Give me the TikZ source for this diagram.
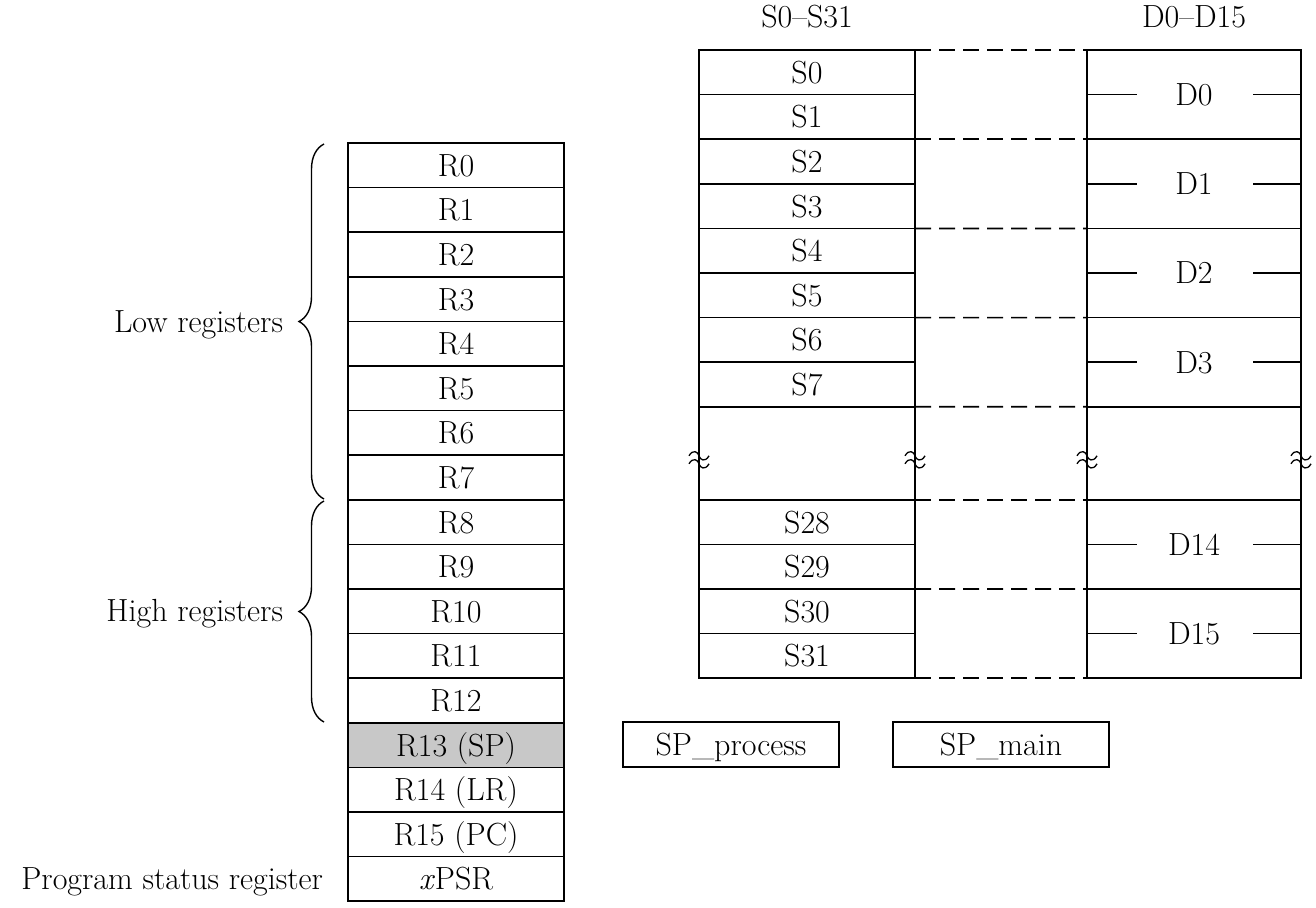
\documentclass[tikz,border=0pt]{standalone}
\usepackage{fontspec}
\usetikzlibrary{decorations.pathreplacing,calc}
\definecolor{spgray}{RGB}{200,200,200}
\begin{document}
\begin{tikzpicture}[x=1pt,y=-1pt,
  txt/.style={font=\fontsize{32}{38}\selectfont, inner sep=0pt, outer sep=0pt, text height=21.8pt, text depth=0pt},
  reg/.style={txt, draw, line width=1.7pt, minimum width=216pt, minimum height=44.6pt},
  dreg/.style={reg, minimum width=214pt, minimum height=89.2pt},
  spreg/.style={reg, fill=spgray},
  conn/.style={line width=1.7pt, dash pattern=on 16pt off 8pt},
  frame/.style={line width=1.7pt},
  brk/.style={line width=1.3pt},
  brc/.style={decorate, decoration={brace, amplitude=25pt}, line width=1.4pt},
  brkmark/.pic={
    \draw[brk] (-10,-4) .. controls (-6,-11) and (-1,-8) .. (0,-4) .. controls (1,0) and (6,3) .. (10,-4);
    \draw[brk] (-10,4) .. controls (-6,-3) and (-1,0) .. (0,4) .. controls (1,8) and (6,11) .. (10,4);
  }
]
\useasboundingbox (0,0) rectangle (1316,907);

% core registers
\node[reg] (r0)  at (456,165.3) {R0};
\node[reg] (r1)  at (456,209.9) {R1};
\node[reg] (r2)  at (456,254.5) {R2};
\node[reg] (r3)  at (456,299.1) {R3};
\node[reg] (r4)  at (456,343.7) {R4};
\node[reg] (r5)  at (456,388.3) {R5};
\node[reg] (r6)  at (456,432.9) {R6};
\node[reg] (r7)  at (456,477.5) {R7};
\node[reg] (r8)  at (456,522.1) {R8};
\node[reg] (r9)  at (456,566.7) {R9};
\node[reg] (r10) at (456,611.3) {R10};
\node[reg] (r11) at (456,655.9) {R11};
\node[reg] (r12) at (456,700.5) {R12};
\node[spreg] (r13) at (456,745.1) {R13 (SP)};
\node[reg] (r14) at (456,789.7) {R14 (LR)};
\node[reg] (r15) at (456,834.3) {R15 (PC)};
\node[reg] (psr) at (456,878.9) {\textit{x}PSR};

% braces and labels
\coordinate (lowtop) at (324,144);
\coordinate (lowbot) at (324,499);
\coordinate (hightop) at (324,501);
\coordinate (highbot) at (324,722);
\draw[brc] (lowbot) -- (lowtop);
\draw[brc] (highbot) -- (hightop);
\node[txt, anchor=east] (lowlbl) at (283,322) {Low registers};
\node[txt, anchor=east] (highlbl) at (283,611) {High registers};
\node[txt, anchor=east] (psrlbl) at (323,879) {Program status register};

% SP banked
\node[reg] (spp) at (731,744.5) {SP\_process};
\node[reg] (spm) at (1001,744.5) {SP\_main};

% S registers
\node[txt] (shead) at (807,16.5) {S0--S31};
\node[reg] (s0) at (807,72.3) {S0};
\node[reg] (s1) at (807,116.9) {S1};
\node[reg] (s2) at (807,161.5) {S2};
\node[reg] (s3) at (807,206.1) {S3};
\node[reg] (s4) at (807,250.7) {S4};
\node[reg] (s5) at (807,295.3) {S5};
\node[reg] (s6) at (807,339.9) {S6};
\node[reg] (s7) at (807,384.5) {S7};
\node[reg] (s28) at (807,522.1) {S28};
\node[reg] (s29) at (807,566.7) {S29};
\node[reg] (s30) at (807,611.3) {S30};
\node[reg] (s31) at (807,655.9) {S31};

% D registers
\node[txt] (dhead) at (1194,16.5) {D0--D15};
\node[dreg] (d0) at (1194,94.6) {D0};
\node[dreg] (d1) at (1194,183.8) {D1};
\node[dreg] (d2) at (1194,273.0) {D2};
\node[dreg] (d3) at (1194,362.2) {D3};
\node[dreg] (d14) at (1194,544.4) {D14};
\node[dreg] (d15) at (1194,633.6) {D15};

% stubs in D cells
\foreach \d in {d0,d1,d2,d3,d14,d15}{
  \draw[frame] (\d.west) -- ++(50,0);
  \draw[frame] (\d.east) -- ++(-48,0);
}

% broken section
\draw[frame] (s7.south west) -- (s28.north west) coordinate[pos=0.57] (bk1);
\draw[frame] (s7.south east) -- (s28.north east) coordinate[pos=0.57] (bk2);
\draw[frame] (d3.south west) -- (d14.north west) coordinate[pos=0.57] (bk3);
\draw[frame] (d3.south east) -- (d14.north east) coordinate[pos=0.57] (bk4);
\foreach \b in {bk1,bk2,bk3,bk4}{ \pic at (\b) {brkmark}; }

% dashed connectors
\draw[conn] (s0.north east) -- (d0.north west);
\draw[conn] (s1.south east) -- (d0.south west);
\draw[conn] (s3.south east) -- (d1.south west);
\draw[conn] (s5.south east) -- (d2.south west);
\draw[conn] (s7.south east) -- (d3.south west);
\draw[conn] (s28.north east) -- (d14.north west);
\draw[conn] (s29.south east) -- (d14.south west);
\draw[conn] (s31.south east) -- (d15.south west);
\end{tikzpicture}
\end{document}
